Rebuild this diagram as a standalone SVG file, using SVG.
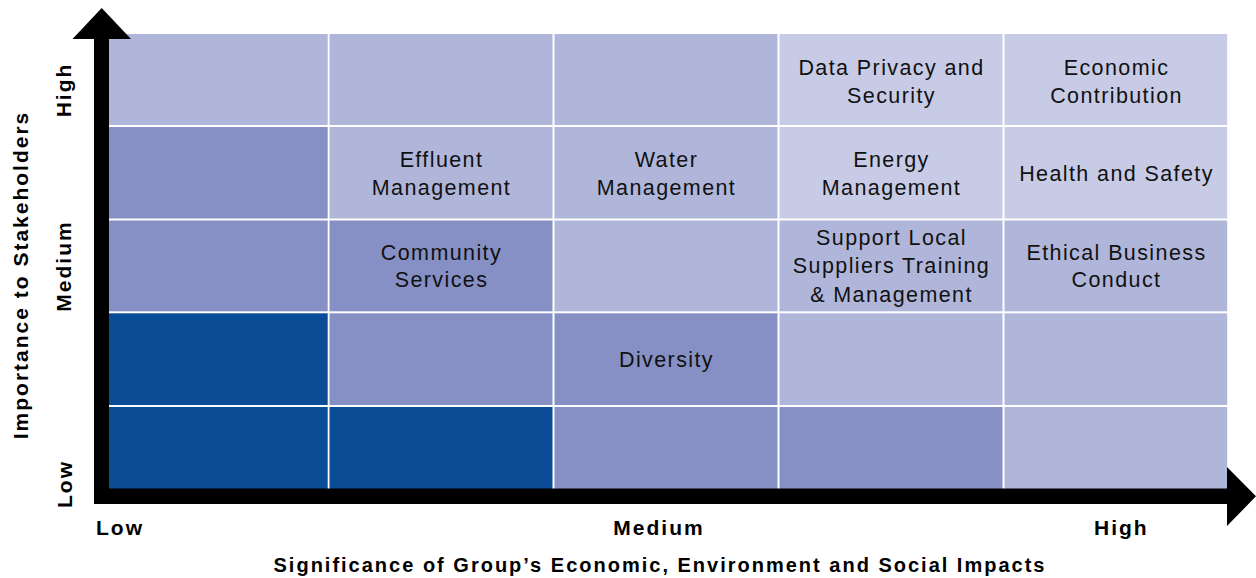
<svg xmlns="http://www.w3.org/2000/svg" width="1256" height="578" viewBox="0 0 1256 578">
  <style>
    .lightest { fill: #c8cbe6; }
    .light { fill: #b0b6da; }
    .mid { fill: #8690c4; }
    .dark { fill: #0b4c97; }
    .cell-text { font-family: "Liberation Sans", Arial, sans-serif; font-size: 21.5px; letter-spacing: 1.4px; fill: #111; text-anchor: middle; }
    .axis-text { font-family: "Liberation Sans", Arial, sans-serif; font-size: 21px; font-weight: bold; letter-spacing: 2px; fill: #000; }
    .title-text { font-family: "Liberation Sans", Arial, sans-serif; font-size: 20px; font-weight: bold; letter-spacing: 2px; fill: #000; text-anchor: middle; }
  </style>
  <rect width="1256" height="578" fill="#ffffff"/>

  <!-- matrix cells: columns = significance (low to high), rows = importance (high to low) -->
  <g id="grid">
    <!-- row 1 (High) -->
    <rect class="light" x="109" y="34" width="218.7" height="91"/>
    <rect class="light" x="329.5" y="34" width="223" height="91"/>
    <rect class="light" x="554.5" y="34" width="223" height="91"/>
    <rect class="lightest" x="779.5" y="34" width="223" height="91"/>
    <rect class="lightest" x="1004.5" y="34" width="222.7" height="91"/>
    <!-- row 2 -->
    <rect class="mid" x="109" y="127" width="218.7" height="91.5"/>
    <rect class="light" x="329.5" y="127" width="223" height="91.5"/>
    <rect class="light" x="554.5" y="127" width="223" height="91.5"/>
    <rect class="lightest" x="779.5" y="127" width="223" height="91.5"/>
    <rect class="lightest" x="1004.5" y="127" width="222.7" height="91.5"/>
    <!-- row 3 (Medium) -->
    <rect class="mid" x="109" y="220.5" width="218.7" height="90.8"/>
    <rect class="mid" x="329.5" y="220.5" width="223" height="90.8"/>
    <rect class="light" x="554.5" y="220.5" width="223" height="90.8"/>
    <rect class="light" x="779.5" y="220.5" width="223" height="90.8"/>
    <rect class="light" x="1004.5" y="220.5" width="222.7" height="90.8"/>
    <!-- row 4 -->
    <rect class="dark" x="109" y="313.3" width="218.7" height="91.7"/>
    <rect class="mid" x="329.5" y="313.3" width="223" height="91.7"/>
    <rect class="mid" x="554.5" y="313.3" width="223" height="91.7"/>
    <rect class="light" x="779.5" y="313.3" width="223" height="91.7"/>
    <rect class="light" x="1004.5" y="313.3" width="222.7" height="91.7"/>
    <!-- row 5 (Low) -->
    <rect class="dark" x="109" y="407" width="218.7" height="82"/>
    <rect class="dark" x="329.5" y="407" width="223" height="82"/>
    <rect class="mid" x="554.5" y="407" width="223" height="82"/>
    <rect class="mid" x="779.5" y="407" width="223" height="82"/>
    <rect class="light" x="1004.5" y="407" width="222.7" height="82"/>
  </g>

  <g id="topic-data-privacy">
    <text class="cell-text" x="891.5" y="75">Data Privacy and</text>
    <text class="cell-text" x="891.5" y="103">Security</text>
  </g>
  <g id="topic-economic-contribution">
    <text class="cell-text" x="1116.5" y="75">Economic</text>
    <text class="cell-text" x="1116.5" y="103">Contribution</text>
  </g>
  <g id="topic-effluent">
    <text class="cell-text" x="441.5" y="166.5">Effluent</text>
    <text class="cell-text" x="441.5" y="194.5">Management</text>
  </g>
  <g id="topic-water">
    <text class="cell-text" x="666.5" y="166.7">Water</text>
    <text class="cell-text" x="666.5" y="195">Management</text>
  </g>
  <g id="topic-energy">
    <text class="cell-text" x="891.5" y="166.7">Energy</text>
    <text class="cell-text" x="891.5" y="195">Management</text>
  </g>
  <g id="topic-health-safety">
    <text class="cell-text" x="1116.5" y="180.7">Health and Safety</text>
  </g>
  <g id="topic-community">
    <text class="cell-text" x="441.5" y="259.5">Community</text>
    <text class="cell-text" x="441.5" y="287">Services</text>
  </g>
  <g id="topic-local-suppliers">
    <text class="cell-text" x="891.5" y="245">Support Local</text>
    <text class="cell-text" x="891.5" y="273.3">Suppliers Training</text>
    <text class="cell-text" x="891.5" y="301.7">&amp; Management</text>
  </g>
  <g id="topic-ethics">
    <text class="cell-text" x="1116.5" y="259.5">Ethical Business</text>
    <text class="cell-text" x="1116.5" y="287">Conduct</text>
  </g>
  <g id="topic-diversity">
    <text class="cell-text" x="666.5" y="367">Diversity</text>
  </g>

  <!-- axes -->
  <g id="axes">
    <rect x="94" y="38" width="15" height="466" fill="#000"/>
    <polygon points="101.7,8 72.5,39 131,39" fill="#000"/>
    <rect x="94" y="488.5" width="1134" height="15.5" fill="#000"/>
    <polygon points="1227,467 1256,496.3 1227,526" fill="#000"/>
  </g>

  <g id="x-axis-labels">
    <text class="axis-text" x="96" y="535">Low</text>
    <text class="axis-text" x="659" y="535" text-anchor="middle">Medium</text>
    <text class="axis-text" x="1094" y="535">High</text>
    <text class="title-text" x="660" y="572">Significance of Group’s Economic, Environment and Social Impacts</text>
  </g>

  <g id="y-axis-labels">
    <text class="axis-text" text-anchor="middle" transform="translate(27.5,275) rotate(-90)">Importance to Stakeholders</text>
    <text class="axis-text" text-anchor="middle" transform="translate(70.5,90) rotate(-90)">High</text>
    <text class="axis-text" text-anchor="middle" transform="translate(70.5,266) rotate(-90)">Medium</text>
    <text class="axis-text" text-anchor="middle" transform="translate(72,484) rotate(-90)">Low</text>
  </g>
</svg>
